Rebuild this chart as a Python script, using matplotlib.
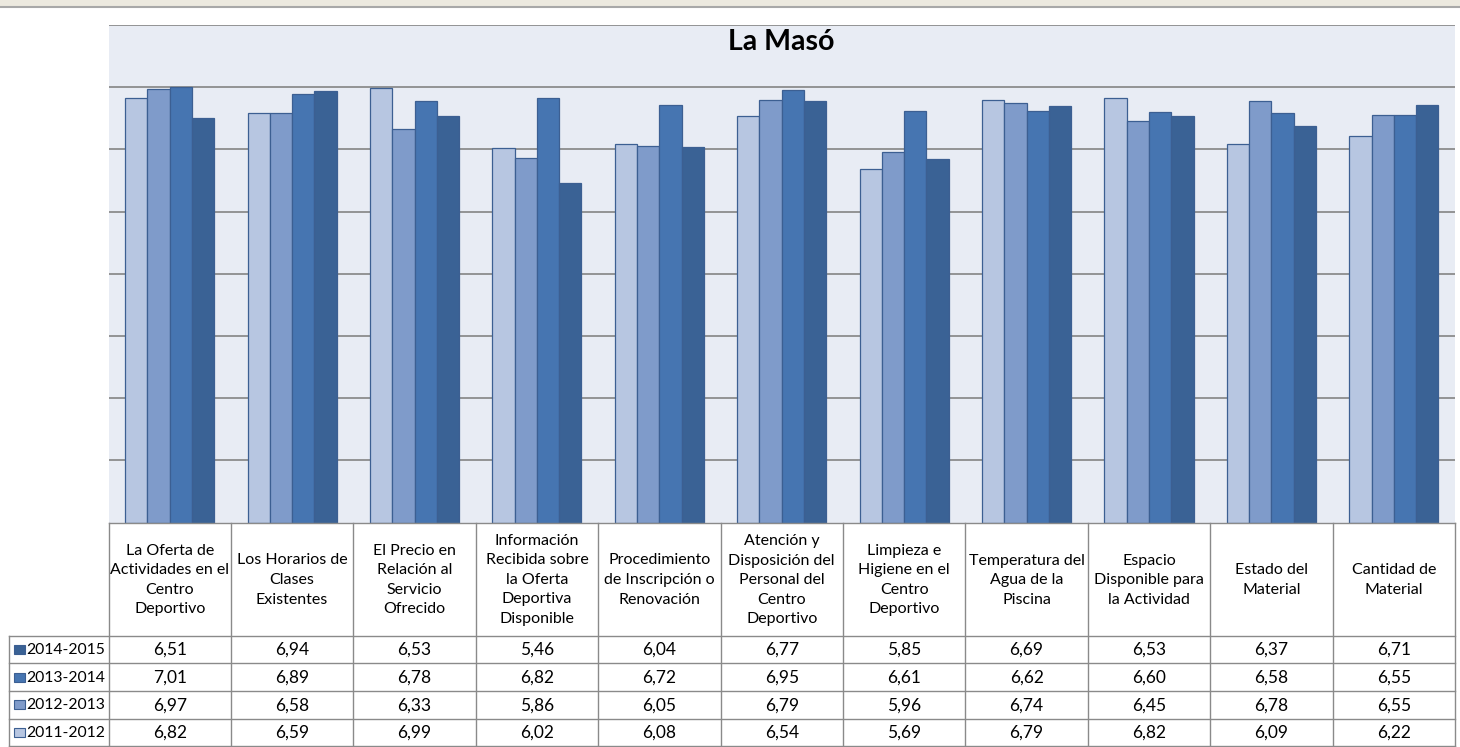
import matplotlib
matplotlib.use("Agg")
import matplotlib.pyplot as plt
from matplotlib.patches import Rectangle
import numpy as np

plt.rcParams['font.family'] = ['Lato', 'DejaVu Sans']

title = "La Masó"
categories = [
    "La Oferta de\nActividades en el\nCentro\nDeportivo",
    "Los Horarios de\nClases\nExistentes",
    "El Precio en\nRelación al\nServicio\nOfrecido",
    "Información\nRecibida sobre\nla Oferta\nDeportiva\nDisponible",
    "Procedimiento\nde Inscripción o\nRenovación",
    "Atención y\nDisposición del\nPersonal del\nCentro\nDeportivo",
    "Limpieza e\nHigiene en el\nCentro\nDeportivo",
    "Temperatura del\nAgua de la\nPiscina",
    "Espacio\nDisponible para\nla Actividad",
    "Estado del\nMaterial",
    "Cantidad de\nMaterial",
]
series_names = ["2011-2012", "2012-2013", "2013-2014", "2014-2015"]
v_2011_2012 = [6.82, 6.59, 6.99, 6.02, 6.08, 6.54, 5.69, 6.79, 6.82, 6.09, 6.22]
v_2012_2013 = [6.97, 6.58, 6.33, 5.86, 6.05, 6.79, 5.96, 6.74, 6.45, 6.78, 6.55]
v_2013_2014 = [7.01, 6.89, 6.78, 6.82, 6.72, 6.95, 6.61, 6.62, 6.60, 6.58, 6.55]
v_2014_2015 = [6.51, 6.94, 6.53, 5.46, 6.04, 6.77, 5.85, 6.69, 6.53, 6.37, 6.71]
series_values = [v_2011_2012, v_2012_2013, v_2013_2014, v_2014_2015]
colors = ["#B7C6E1", "#7F9BCA", "#4675B1", "#3A6295"]

W, H = 1460, 747
fig = plt.figure(figsize=(W / 100, H / 100), dpi=100)
fig.patch.set_facecolor("white")

# plot area in pixel terms
px_left, px_right, px_top, px_bot = 108.5, 1455, 25, 522.5
ax = fig.add_axes([px_left / W, 1 - px_bot / H, (px_right - px_left) / W, (px_bot - px_top) / H])
ax.set_facecolor("#E8ECF4")
n = len(categories)
x = np.arange(n)
bw = 0.182
for i, (vals, c) in enumerate(zip(series_values, colors)):
    ax.bar(x + (i - 1.5) * bw, vals, width=bw, color=c, edgecolor="#3C5F92",
           linewidth=0.9, zorder=3)
ax.set_xlim(-0.5, n - 0.5)
ax.set_ylim(0, 8)
ax.set_yticks(np.arange(1, 9))
ax.yaxis.grid(True, color="#8C8C8C", linewidth=1.3, zorder=1)
ax.set_xticks([])
ax.tick_params(left=False, labelleft=False)
for s in ax.spines.values():
    s.set_visible(False)
ax.text(0.5, (px_bot - 42) / (px_bot - px_top), title, transform=ax.transAxes,
        ha="center", va="center", fontsize=20.5, fontweight="bold", color="black", zorder=5)

# overlay axes in pixel coordinates for the data table and window band
ov = fig.add_axes([0, 0, 1, 1], facecolor="none")
ov.set_xlim(0, W)
ov.set_ylim(H, 0)
ov.axis("off")
ov.add_patch(Rectangle((0, 0), W, 6, facecolor="#ECE9DF", edgecolor="none"))
ov.plot([0, W], [6.5, 6.5], color="#A8A8A8", lw=1.5)

lc = "#8A8A8A"
col_w = (px_right - px_left) / n
hdr_top, hdr_bot = 522.5, 635.5
row_h = 27.7
label_left = 8.5
rows = list(reversed(range(len(series_names))))  # 2014-2015 first
table_bottom = hdr_bot + row_h * len(rows)

# horizontal lines
ov.plot([px_left, px_right], [hdr_top, hdr_top], color=lc, lw=1)
for r in range(len(rows) + 1):
    yy = hdr_bot + r * row_h
    ov.plot([label_left, px_right], [yy, yy], color=lc, lw=1)
# vertical lines
for k in range(n + 1):
    xx = px_left + k * col_w
    ov.plot([xx, xx], [hdr_top, table_bottom], color=lc, lw=1)
ov.plot([label_left, label_left], [hdr_bot, table_bottom], color=lc, lw=1)

# header text
for k, cat in enumerate(categories):
    ov.text(px_left + (k + 0.5) * col_w, (hdr_top + hdr_bot) / 2 + 1, cat,
            ha="center", va="center", fontsize=11.5, linespacing=1.5, color="black")

# rows
for r, si in enumerate(rows):
    yc = hdr_bot + (r + 0.5) * row_h
    ov.add_patch(Rectangle((13.5, yc - 4.5), 11, 9, facecolor=colors[si],
                           edgecolor="#3C5F92", lw=0.8))
    ov.text(26.5, yc + 0.5, series_names[si], ha="left", va="center", fontsize=11.3,
            color="black")
    for k, v in enumerate(series_values[si]):
        ov.text(px_left + (k + 0.5) * col_w, yc + 0.5, f"{v:.2f}".replace(".", ","),
                ha="center", va="center", fontsize=12.5, color="black")

fig.savefig("out.png", dpi=100)
